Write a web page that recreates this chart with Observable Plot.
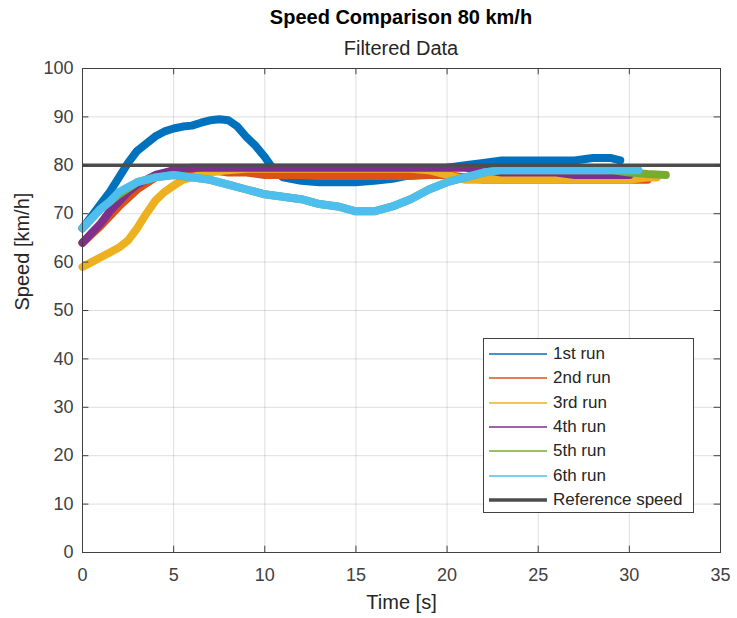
<!DOCTYPE html>
<html>
<head>
<meta charset="utf-8">
<script src="https://cdn.jsdelivr.net/npm/d3@7"></script>
<script src="https://cdn.jsdelivr.net/npm/@observablehq/plot@0.6"></script>
<style>
  html, body { margin: 0; padding: 0; background: #fff; }
  #wrap { position: relative; width: 737px; height: 618px; font-family: "Liberation Sans", Arial, sans-serif; }
  #wrap > svg { position: absolute; left: 0; top: 0; }
  .title { position: absolute; left: 82px; width: 638px; text-align: center; color: #000; }
  #t1 { top: 6px; font-size: 20px; font-weight: bold; }
  #t2 { top: 37px; font-size: 20px; color: #262626; }
  #legend { position: absolute; left: 483px; top: 338px; width: 209px; height: 173px; border: 1px solid #404040; background: #fff; }
  #legend .row { position: absolute; left: 0; height: 24px; display: flex; align-items: center; font-size: 17px; color: #262626; white-space: nowrap; }
  #legend .row svg { display: block; margin-left: 5px; margin-right: 6px; }
</style>
</head>
<body>
<div id="wrap">
  <div class="title" id="t1">Speed Comparison 80 km/h</div>
  <div class="title" id="t2">Filtered Data</div>
</div>
<script>
// ---- data ----
const runNames = ["1st run", "2nd run", "3rd run", "4th run", "5th run", "6th run"];
const runColors = ["#0072BD", "#D95319", "#EDB120", "#7E2F8E", "#77AC30", "#4DBEEE"];
const refName = "Reference speed";
const refSpeed = [80];
const xTicks = [0, 5, 10, 15, 20, 25, 30, 35];
const yTicks = [0, 10, 20, 30, 40, 50, 60, 70, 80, 90, 100];

const t1 = [0, 0.5, 1, 1.5, 2, 2.5, 3, 3.5, 4, 4.5, 5, 5.5, 6, 6.5, 7, 7.5, 8, 8.5, 9, 9.5, 10, 10.5, 11, 12, 13, 14, 15, 16, 17, 18, 19, 20, 21, 22, 23, 24, 25, 26, 27, 28, 29, 29.5];
const v1 = [67, 69.5, 72, 74.5, 77.5, 80.5, 83, 84.5, 86, 87, 87.6, 88, 88.2, 88.8, 89.3, 89.5, 89.3, 88, 85.8, 84, 81.7, 79, 77.5, 76.8, 76.5, 76.5, 76.5, 76.8, 77.2, 78, 78.8, 79.5, 80, 80.5, 81, 81, 81, 81, 81, 81.5, 81.5, 81];

const t2 = [0, 1, 2, 3, 4, 5, 6, 7, 8, 9, 10, 11, 12, 13, 14, 15, 16, 17, 18, 19, 20, 21, 22, 23, 24, 25, 26, 27, 28, 29, 30, 31];
const v2 = [64, 67.5, 71.5, 75, 77.5, 78.5, 79, 79, 78.5, 78.5, 78, 78, 78, 77.8, 77.8, 77.8, 77.8, 77.8, 77.8, 78, 78, 77.5, 77, 77, 77, 77, 77, 77, 77, 77, 77, 77];

const t3 = [0, 0.5, 1, 1.5, 2, 2.5, 3, 3.5, 4, 4.5, 5, 5.5, 6, 7, 8, 9, 10, 11, 12, 13, 14, 15, 16, 17, 18, 19, 20, 21, 22, 23, 24, 25, 26, 27, 28, 29, 30, 31, 31.5];
const v3 = [59, 60, 61, 62, 63, 64.5, 67, 70, 72.7, 74.5, 75.8, 77, 77.5, 78.5, 79, 79.3, 79.3, 79.3, 79.3, 79.3, 79.3, 79.3, 79.3, 79.3, 79.3, 79, 78, 77, 77, 77, 77, 77, 77, 77, 77, 77, 77, 77.5, 77.5];

const t4 = [0, 0.5, 1, 1.5, 2, 2.5, 3, 3.5, 4, 4.5, 5, 6, 7, 8, 9, 10, 11, 12, 13, 14, 15, 16, 17, 18, 19, 20, 21, 22, 23, 24, 25, 26, 27, 28, 29, 30];
const v4 = [64, 66, 68, 70.5, 72.5, 74.5, 76, 77, 78, 78.5, 79, 79.5, 79.5, 79.5, 79.5, 79.5, 79.5, 79.5, 79.5, 79.5, 79.5, 79.5, 79.5, 79.5, 79.5, 79.5, 79.5, 79, 78.5, 78.5, 78.5, 78.5, 78, 78, 78, 78];

const t5 = [0, 1, 2, 3, 4, 5, 6, 7, 8, 9, 10, 11, 12, 13, 14, 15, 16, 17, 18, 19, 20, 21, 22, 23, 24, 25, 26, 27, 28, 29, 30, 31, 32];
const v5 = [67, 71, 74, 76.5, 77.5, 78, 77.5, 77, 76, 75, 74, 73.5, 73, 72, 71.5, 70.5, 70.5, 71.5, 73, 75, 76.5, 77.5, 78.5, 79, 79, 79, 79, 79, 79, 79, 78.5, 78.2, 78];

const t6 = [0, 0.5, 1, 1.5, 2, 2.5, 3, 3.5, 4, 5, 6, 7, 8, 9, 10, 11, 12, 13, 14, 15, 16, 17, 18, 19, 20, 21, 22, 23, 24, 25, 26, 27, 28, 29, 30, 30.5];
const v6 = [67, 69, 71, 72.5, 74.5, 75.5, 76.5, 77, 77.5, 78, 77.5, 77, 76, 75, 74, 73.5, 73, 72, 71.5, 70.5, 70.5, 71.5, 73, 75, 76.5, 77.5, 78.5, 79, 79, 79, 79, 79, 79, 79, 79, 79];

const times = [t1, t2, t3, t4, t5, t6];
const vals = [v1, v2, v3, v4, v5, v6];
const rows = [];
runNames.forEach((name, k) => times[k].forEach((t, i) => rows.push({run: name, t, v: vals[k][i]})));

const axisColor = "#404040";

const chart = Plot.plot({
  width: 737,
  height: 618,
  marginLeft: 82,
  marginRight: 17,
  marginTop: 68,
  marginBottom: 66,
  style: {fontFamily: "Liberation Sans, Arial, sans-serif", background: "transparent"},
  x: {domain: [0, 35]},
  y: {domain: [0, 100]},
  color: {domain: runNames, range: runColors},
  marks: [
    Plot.gridX(xTicks, {stroke: "#000", strokeOpacity: 0.13}),
    Plot.gridY(yTicks, {stroke: "#000", strokeOpacity: 0.13}),
    Plot.line(rows, {x: "t", y: "v", z: "run", stroke: "run", strokeWidth: 8, strokeLinejoin: "round", strokeLinecap: "round"}),
    Plot.ruleY(refSpeed, {stroke: "#4d4d4d", strokeWidth: 3.5}),
    Plot.ruleX(xTicks, {y1: 0, y2: 1.3, stroke: axisColor}),
    Plot.ruleX(xTicks, {y1: 98.7, y2: 100, stroke: axisColor}),
    Plot.ruleY(yTicks, {x1: 0, x2: 0.35, stroke: axisColor}),
    Plot.ruleY(yTicks, {x1: 34.65, x2: 35, stroke: axisColor}),
    Plot.frame({stroke: axisColor}),
    Plot.axisX(xTicks, {tickSize: 0, tickPadding: 16, fontSize: 18, fill: axisColor, label: null}),
    Plot.axisY(yTicks, {tickSize: 0, tickPadding: 9, fontSize: 18, fill: axisColor, label: null}),
    Plot.text(["Time [s]"], {frameAnchor: "bottom", dy: 50, fontSize: 20, fill: "#262626", lineAnchor: "middle"}),
    Plot.text(["Speed [km/h]"], {frameAnchor: "left", dx: -60, rotate: -90, fontSize: 20, fill: "#262626", lineAnchor: "middle"})
  ]
});
const wrap = document.getElementById("wrap");
wrap.insertBefore(chart, wrap.firstChild);

// legend
const legend = document.createElement("div");
legend.id = "legend";
const entries = runNames.map((n, i) => ({name: n, color: runColors[i], w: 1.3})).concat([{name: refName, color: "#4d4d4d", w: 3.5}]);
entries.forEach((e, i) => {
  const row = document.createElement("div");
  row.className = "row";
  row.style.top = (3 + i * 24.3) + "px";
  row.innerHTML = `<svg width="58" height="10"><line x1="0" x2="58" y1="5" y2="5" stroke="${e.color}" stroke-width="${e.w}"/></svg><span>${e.name}</span>`;
  legend.appendChild(row);
});
wrap.appendChild(legend);
</script>
</body>
</html>
